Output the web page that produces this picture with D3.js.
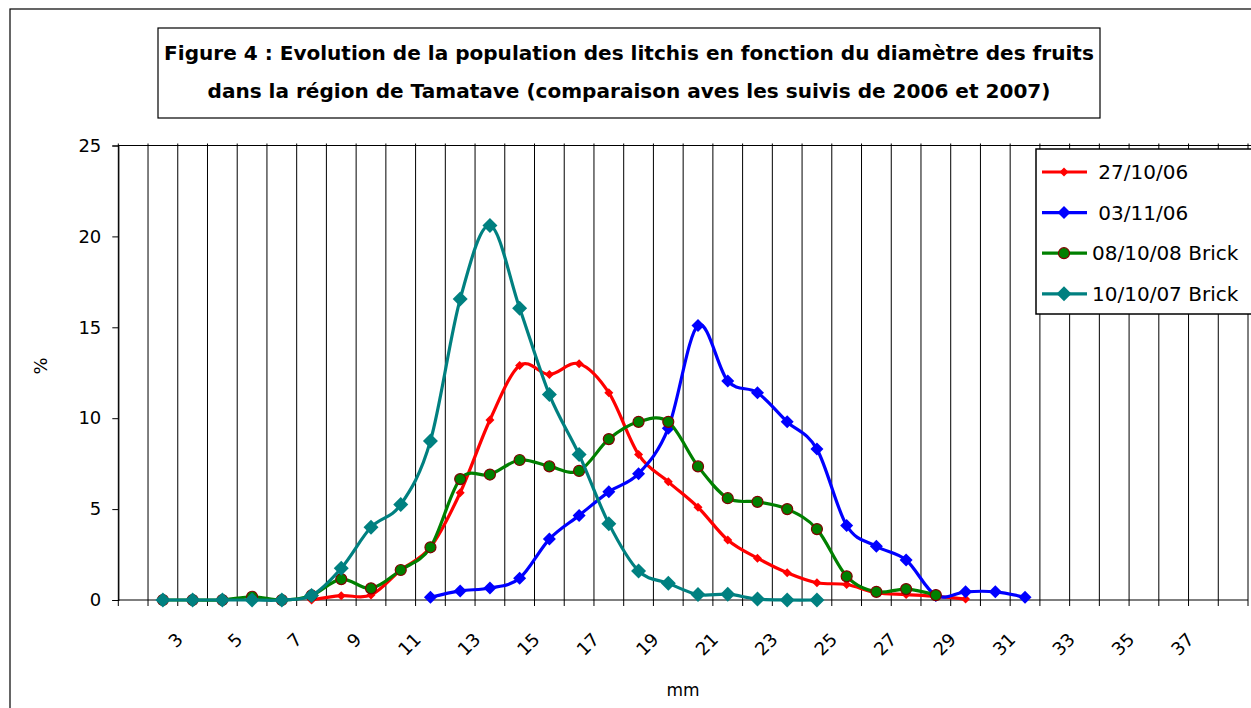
<!DOCTYPE html>
<html>
<head>
<meta charset="utf-8">
<script src="https://cdn.jsdelivr.net/npm/d3@7"></script>
<style>
body { margin: 0; background: #fff; }
text { font-family: "Comic Sans MS", "DejaVu Sans", sans-serif; }
</style>
</head>
<body>
<script>
// categories = diametre des fruits (mm), one per band
var categories = ["1","2","3","4","5","6","7","8","9","10","11","12","13","14","15","16","17","18","19","20",
	"21","22","23","24","25","26","27","28","29","30","31","32","33","34","35","36","37","38"];
var tickLabels = ["3","5","7","9","11","13","15","17","19","21","23","25","27","29","31","33","35","37"];
var yTicks = [0, 5, 10, 15, 20, 25];

var titleLines = ["Figure 4 : Evolution de la population des litchis en fonction du diamètre des fruits",
	"dans la région de Tamatave (comparaison aves les suivis de 2006 et 2007)"];

// values read per category, null = no point
var red = [null,null,null,null,null,null,0,0.24,0.27,1.65,2.9,5.9,9.9,12.9,12.4,13.0,11.4,8.0,6.5,5.1,
	3.3,2.3,1.5,0.95,0.85,0.4,0.3,0.2,0.05,null,null,null,null,null,null,null,null,null];
var blue = [null,null,null,null,null,null,null,null,null,null,0.15,0.5,0.66,1.2,3.35,4.65,5.95,6.95,9.45,15.1,
	12.05,11.4,9.8,8.3,4.1,2.95,2.2,0.25,0.45,0.45,0.15,null,null,null,null,null,null,null];
var green = [null,0,0,0,0.18,0,0.25,1.15,0.64,1.65,2.9,6.65,6.9,7.7,7.35,7.1,8.85,9.8,9.8,7.35,
	5.6,5.4,5.0,3.9,1.3,0.45,0.6,0.27,null,null,null,null,null,null,null,null,null,null];
var teal = [null,0,0,0,0,0,0.25,1.75,4.0,5.25,8.75,16.55,20.6,16.05,11.3,8.0,4.2,1.6,0.92,0.3,
	0.32,0.05,0,0,null,null,null,null,null,null,null,null,null,null,null,null,null,null];

var seriesNames = [" 27/10/06", " 03/11/06", "08/10/08 Brick", "10/10/07 Brick"];

var series = [
	{name: seriesNames[0], values: red, color: "#ff0000", marker: "diamond", size: 4.5},
	{name: seriesNames[1], values: blue, color: "#0000ff", marker: "diamond", size: 6.5},
	{name: seriesNames[2], values: green, color: "#008000", marker: "circle", size: 5.5},
	{name: seriesNames[3], values: teal, color: "#008080", marker: "diamond", size: 7.5}
];

var W = 1251, H = 708;
var svg = d3.select("body").append("svg")
	.attr("width", W)
	.attr("height", H);

svg.append("rect")
	.attr("x", 10).attr("y", 9)
	.attr("width", 1400).attr("height", 900)
	.attr("fill", "#fff").attr("stroke", "#000").attr("stroke-width", 1.2);

// title box
svg.append("rect")
	.attr("x", 158).attr("y", 28)
	.attr("width", 942).attr("height", 90)
	.attr("fill", "#fff").attr("stroke", "#000").attr("stroke-width", 1.2);

var t = svg.selectAll(".title").data(titleLines).enter().append("text")
	.attr("class", "title")
	.attr("x", 629)
	.attr("y", function(d, i){ return 60 + i * 38; })
	.attr("text-anchor", "middle")
	.attr("font-weight", "bold")
	.attr("font-size", 19)
	.text(function(d){ return d; });
var len = t.nodes()[0].getComputedTextLength();
t.attr("font-size", 19 * 930 / len);

var x = d3.scaleBand().domain(categories).range([118.3, 1248]).paddingInner(0).paddingOuter(0);
var y = d3.scaleLinear().domain([0, 25]).range([600, 145.5]);
var cx = function(c){ return x(c) + x.bandwidth() / 2; };

// vertical gridlines at band edges, with small ticks below the axis
var edges = categories.map(function(c){ return x(c); }).concat([x.range()[1]]);
svg.selectAll(".grid").data(edges).enter().append("line")
	.attr("class", "grid")
	.attr("x1", function(d){ return d; }).attr("x2", function(d){ return d; })
	.attr("y1", y(25) - 2).attr("y2", y(0) + 6)
	.attr("stroke", "#000").attr("stroke-width", 1);

svg.append("line")
	.attr("x1", x.range()[0]).attr("x2", W)
	.attr("y1", y(25)).attr("y2", y(25))
	.attr("stroke", "#000").attr("stroke-width", 1.2);

svg.append("line")
	.attr("x1", x.range()[0]).attr("x2", x.range()[1])
	.attr("y1", y(0)).attr("y2", y(0))
	.attr("stroke", "#000").attr("stroke-width", 1.2);

var yAxis = svg.append("g")
	.attr("transform", "translate(" + x.range()[0] + ",0)")
	.call(d3.axisLeft(y).tickValues(yTicks).tickSize(6).tickPadding(11).tickFormat(d3.format("d")));
yAxis.select(".domain").attr("stroke", "#000").attr("stroke-width", 1.2);
yAxis.selectAll("text").attr("font-size", 18).attr("font-family", null).attr("fill", "#000");

svg.selectAll(".xlab").data(tickLabels).enter().append("text")
	.attr("class", "xlab")
	.attr("text-anchor", "end")
	.attr("dominant-baseline", "central")
	.attr("font-size", 18)
	.attr("transform", function(d){ return "translate(" + (cx(d) - 13) + ",636) rotate(-45)"; })
	.text(function(d){ return d; });

svg.append("text")
	.attr("text-anchor", "middle")
	.attr("font-size", 18)
	.attr("transform", "translate(47,366) rotate(-90)")
	.text("%");

svg.append("text")
	.attr("x", 683).attr("y", 696)
	.attr("text-anchor", "middle")
	.attr("font-size", 17)
	.text("mm");

var drawMarker = function(sel, s, px, py, r){
	if(s.marker == "circle"){
		sel.append("circle")
			.attr("cx", px).attr("cy", py).attr("r", r)
			.attr("fill", s.color).attr("stroke", "#800000").attr("stroke-width", 1.2);
	}else{
		sel.append("path")
			.attr("d", "M" + px + "," + (py - r) + "L" + (px + r) + "," + py + "L" + px + "," + (py + r) + "L" + (px - r) + "," + py + "Z")
			.attr("fill", s.color);
	}
};

var line = d3.line()
	.defined(function(d){ return d.v != null; })
	.x(function(d){ return cx(d.c); })
	.y(function(d){ return y(d.v); })
	.curve(d3.curveCardinal.tension(0));

series.forEach(function(s){
	var pts = categories.map(function(c, i){ return {c: c, v: s.values[i]}; });
	var g = svg.append("g");
	g.append("path")
		.attr("d", line(pts.filter(function(d){ return d.v != null; })))
		.attr("fill", "none")
		.attr("stroke", s.color)
		.attr("stroke-width", 3.2)
		.attr("stroke-linejoin", "round");
	pts.forEach(function(d){
		if(d.v != null){ drawMarker(g, s, cx(d.c), y(d.v), s.size); }
	});
});

// legend
var lg = svg.append("g");
lg.append("rect")
	.attr("x", 1036).attr("y", 149)
	.attr("width", 260).attr("height", 165)
	.attr("fill", "#fff").attr("stroke", "#000").attr("stroke-width", 1.5);
series.forEach(function(s, i){
	var ly = 172 + i * 40.6;
	lg.append("line")
		.attr("x1", 1042).attr("x2", 1087)
		.attr("y1", ly).attr("y2", ly)
		.attr("stroke", s.color).attr("stroke-width", 3.2);
	drawMarker(lg, s, 1064, ly, s.size);
	lg.append("text")
		.attr("x", 1092).attr("y", ly)
		.attr("dominant-baseline", "central")
		.attr("font-size", 20)
		.style("white-space", "pre")
		.text(s.name);
});
</script>
</body>
</html>
